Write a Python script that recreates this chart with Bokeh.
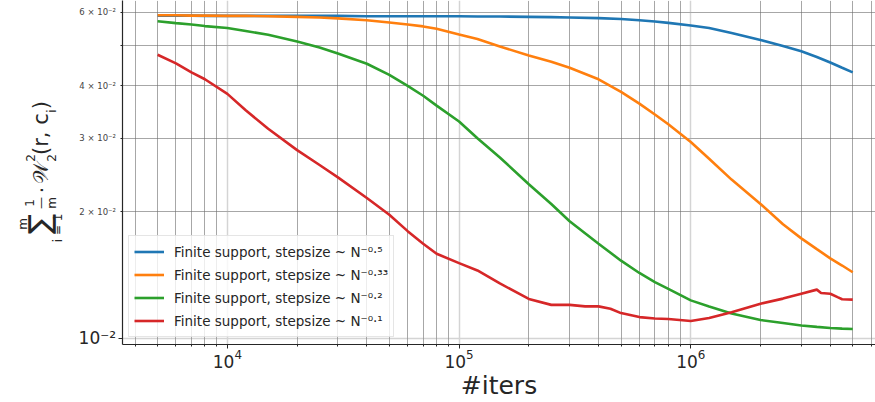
import math
from bokeh.plotting import figure
from bokeh.layouts import row
from bokeh.models import Range1d, FixedTicker, LogTickFormatter, Grid, LinearScale
from bokeh.core.properties import value
from bokeh.embed import file_html
from bokeh.resources import INLINE

# ---------------- data ----------------
iters = [5e3, 6e3, 7e3, 8e3, 1e4, 1.2e4, 1.5e4, 2e4, 2.5e4, 3e4, 4e4, 5e4, 6e4, 7e4, 8e4,
         1e5, 1.2e5, 1.5e5, 2e5, 2.5e5, 3e5, 4e5, 5e5, 6e5, 7e5, 8e5,
         1e6, 1.2e6, 1.5e6, 2e6, 2.5e6, 3e6, 3.5e6, 4e6, 4.5e6, 5e6]

blue = [0.0589, 0.0589, 0.0589, 0.0588, 0.0588, 0.0588, 0.0588, 0.0588, 0.0588, 0.0588,
        0.0587, 0.0587, 0.0587, 0.0587, 0.0587, 0.0587, 0.0586, 0.0586, 0.0585, 0.0584,
        0.0583, 0.0581, 0.0578, 0.0574, 0.0570, 0.0566, 0.0558, 0.0550, 0.0535, 0.0515,
        0.0498, 0.0484, 0.0469, 0.0455, 0.0442, 0.0431]

orange = [0.0590, 0.0590, 0.0589, 0.0589, 0.0588, 0.0588, 0.0587, 0.0585, 0.0583, 0.0580,
          0.0574, 0.0567, 0.0561, 0.0555, 0.0548, 0.0531, 0.0518, 0.0497, 0.0473, 0.0457,
          0.0442, 0.0415, 0.0387, 0.0363, 0.0342, 0.0324, 0.0294, 0.0268, 0.0239, 0.0209,
          0.0187, 0.0173, 0.0163, 0.0155, 0.0149, 0.01436]

green = [0.0571, 0.0565, 0.0561, 0.0556, 0.0550, 0.0541, 0.0530, 0.0511, 0.0494, 0.0478,
         0.0452, 0.0425, 0.0400, 0.0379, 0.0359, 0.0329, 0.0300, 0.0270, 0.0233, 0.0209,
         0.0190, 0.0168, 0.0153, 0.0143, 0.0136, 0.0131, 0.0123, 0.0119, 0.01144, 0.01104,
         0.01086, 0.01071, 0.01063, 0.01057, 0.01053, 0.01051]

red_iters = [5e3, 6e3, 7e3, 8e3, 1e4, 1.2e4, 1.5e4, 2e4, 2.5e4, 3e4, 4e4, 5e4, 6e4, 7e4, 8e4,
             1e5, 1.2e5, 1.5e5, 2e5, 2.5e5, 3e5, 3.5e5, 4e5, 4.5e5, 5e5, 6e5, 7e5, 8e5,
             1e6, 1.2e6, 1.5e6, 2e6, 2.5e6, 3e6, 3.5e6, 3.65e6, 4e6, 4.3e6, 4.5e6, 5e6]
red = [0.0475, 0.0453, 0.0431, 0.0415, 0.0383, 0.0350, 0.0316, 0.0281, 0.0259, 0.0242,
       0.0216, 0.0197, 0.0180, 0.0168, 0.0159, 0.0151, 0.0145, 0.0135, 0.0124, 0.0120,
       0.0120, 0.0119, 0.0119, 0.01175, 0.01147, 0.01122, 0.01113, 0.01110,
       0.01098, 0.01116, 0.01153, 0.01208, 0.01242, 0.01276, 0.01305, 0.01281, 0.01276,
       0.01252, 0.01238, 0.01235]

series_labels = ["Finite support, stepsize ~ N⁻⁰·⁵",
                 "Finite support, stepsize ~ N⁻⁰·³³",
                 "Finite support, stepsize ~ N⁻⁰·²",
                 "Finite support, stepsize ~ N⁻⁰·¹"]
series_colors = ["#1f77b4", "#ff7f0e", "#2ca02c", "#d62728"]

x_major_ticks = [1e4, 1e5, 1e6]
x_minor_ticks = [4e3, 5e3, 6e3, 7e3, 8e3, 9e3,
                 2e4, 3e4, 4e4, 5e4, 6e4, 7e4, 8e4, 9e4,
                 2e5, 3e5, 4e5, 5e5, 6e5, 7e5, 8e5, 9e5,
                 2e6, 3e6, 4e6, 5e6, 6e6]
y_major_ticks = [0.01]
y_major_labels = ["10⁻²"]
y_minor_ticks = [0.02, 0.03, 0.04, 0.05, 0.06]
y_minor_label_ticks = [0.02, 0.03, 0.04, 0.06]
y_minor_labels = ["2 × 10⁻²", "3 × 10⁻²", "4 × 10⁻²", "6 × 10⁻²"]

x_label = "#iters"
# y title  ∑_{i=1}^{m} 1/m · 𝒲_2^2(r, c_i), typeset from pieces
y_title_pieces = ["∑", "m", "i = 1", "1", "—", "m", "·", "𝒲", "2", "2", "(r, c", "i", ")"]

FONT = "DejaVu Sans"
INK = "#262626"

# ---------------- layout geometry ----------------
W, H = 875, 402
WL = 117                # width of the left strip that holds the y tick labels / title
BOTTOM = 57
FRAME_H = H - BOTTOM
X0, X1 = 3527, 6.27e6
y_range = Range1d(0.00965, 0.0640)

# ---------------- main plot ----------------
p = figure(width=W - WL, height=H, x_axis_type="log", y_axis_type="log",
           x_range=Range1d(X0, X1), y_range=y_range,
           output_backend="svg", toolbar_location=None,
           min_border_left=5, min_border_right=0, min_border_top=0, min_border_bottom=BOTTOM)
p.outline_line_color = None
p.background_fill_color = "white"
p.border_fill_color = "white"

xt = FixedTicker(ticks=x_major_ticks, minor_ticks=x_minor_ticks)
yt = FixedTicker(ticks=y_major_ticks, minor_ticks=y_minor_ticks)

for ax in (p.xaxis[0], p.yaxis[0]):
    ax.axis_line_color = INK
    ax.axis_line_width = 1.2
    ax.major_tick_line_color = INK
    ax.minor_tick_line_color = INK
    ax.major_tick_out = 4
    ax.major_tick_in = 0
    ax.minor_tick_out = 2
    ax.minor_tick_in = 0
    ax.major_label_text_font = FONT
    ax.major_label_text_color = INK
    ax.formatter = LogTickFormatter()

p.xaxis[0].ticker = xt
p.xaxis[0].major_label_text_font_size = "17px"
p.xaxis[0].major_label_standoff = 0
p.xaxis[0].axis_label = x_label
p.xaxis[0].axis_label_text_font = FONT
p.xaxis[0].axis_label_text_font_size = "25px"
p.xaxis[0].axis_label_text_font_style = "normal"
p.xaxis[0].axis_label_text_color = INK
p.xaxis[0].axis_label_standoff = 0

p.yaxis[0].ticker = yt
p.yaxis[0].major_label_text_font_size = "0px"
p.yaxis[0].major_label_standoff = 0
p.yaxis[0].major_label_overrides = {0.01: ""}

# base grids: light solid major + faint solid minor
p.xgrid.ticker = xt
p.ygrid.ticker = yt
for g in (p.xgrid[0], p.ygrid[0]):
    g.grid_line_color = "#d4d4d4"
    g.grid_line_width = 1.5
    g.minor_grid_line_color = "#e4e4e4"
    g.minor_grid_line_width = 1

# dotted minor grids on top
for dim, tk in ((0, xt), (1, yt)):
    g = Grid(dimension=dim, ticker=tk, grid_line_color=None,
             minor_grid_line_color="#555555", minor_grid_line_dash="1 1",
             minor_grid_line_width=1, minor_grid_line_alpha=0.85)
    p.add_layout(g)

all_x = [iters, iters, iters, red_iters]
all_y = [blue, orange, green, red]
for xs, ys, lab, col in zip(all_x, all_y, series_labels, series_colors):
    p.line(xs, ys, line_color=col, line_width=2.6, legend_label=lab)

lg = p.legend[0]
lg.location = (6, 7)
lg.label_text_font = FONT
lg.label_text_font_size = "13.5px"
lg.label_text_color = INK
lg.glyph_width = 30
lg.glyph_height = 21
lg.label_height = 21
lg.spacing = 2
lg.padding = 5
lg.margin = 0
lg.label_standoff = 10
lg.border_line_color = "#cccccc"
lg.border_line_width = 1
lg.background_fill_color = "white"
lg.background_fill_alpha = 0.8

# ---------------- left strip: y tick labels and y title ----------------
pl = figure(width=WL, height=H, x_range=Range1d(0, WL), y_range=y_range,
            y_axis_type="log", x_axis_location=None, y_axis_location=None,
            output_backend="svg", toolbar_location=None,
            min_border_left=0, min_border_right=0, min_border_top=0, min_border_bottom=BOTTOM)
pl.outline_line_color = None
pl.grid.visible = False
pl.background_fill_color = "white"
pl.border_fill_color = "white"
pl.extra_y_ranges = {"px": Range1d(0, FRAME_H)}
pl.extra_y_scales = {"px": LinearScale()}

lab_right = WL - 1.5
pl.text(x=[lab_right] * len(y_minor_labels), y=y_minor_label_ticks, text=y_minor_labels,
        text_align="right", text_baseline="middle", text_font=value(FONT),
        text_font_size="8.5px", text_color="#444444")
pl.text(x=[lab_right] * len(y_major_labels), y=y_major_ticks, text=y_major_labels,
        text_align="right", text_baseline="middle", text_font=value(FONT),
        text_font_size="17px", text_color=INK)

# title layout: (x across, page-y along the rotated baseline, font size)
title_layout = [(39, 224, 30), (22, 224, 12), (57, 228, 12),
                (29, 203, 12), (40, 203, 12), (51, 203, 12),
                (41, 190, 20),
                (40, 173, 21), (30, 158, 12), (51, 158, 12),
                (40, 134, 21), (51, 111, 12), (40, 105, 21)]
for txt, (tx, ty, fs) in zip(y_title_pieces, title_layout):
    pl.text(x=[tx], y=[FRAME_H - ty], text=[txt], angle=math.pi / 2, y_range_name="px",
            text_align="center", text_baseline="middle", text_font=value(FONT),
            text_font_size=f"{fs}px", text_color=INK)

layout = row(pl, p, spacing=0)
open("out.html", "w").write(file_html(layout, INLINE))
